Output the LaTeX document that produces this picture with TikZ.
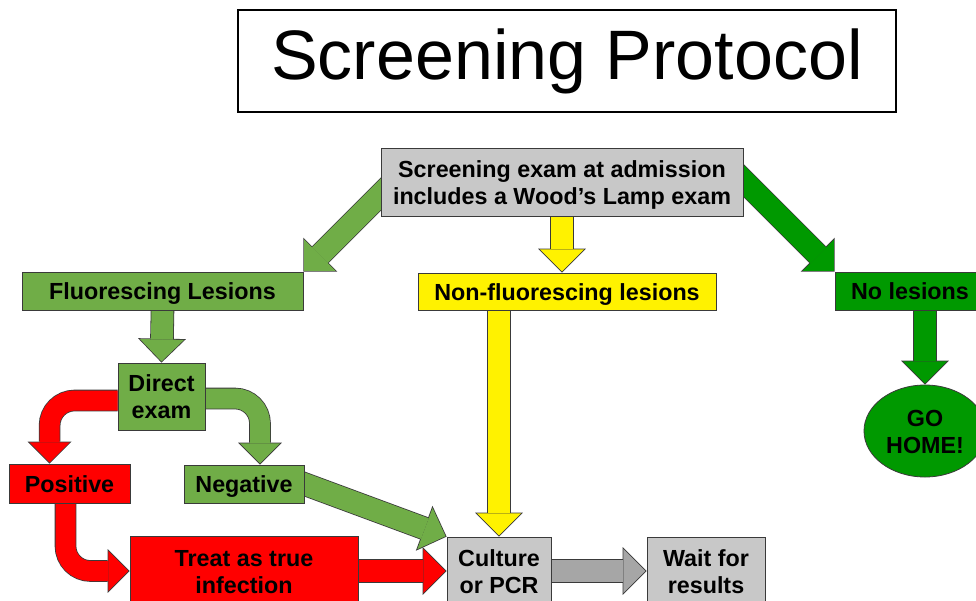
\documentclass[tikz,border=0pt]{standalone}
\usepackage{fontspec}
\setmainfont{Liberation Sans}
\usetikzlibrary{arrows.meta,calc,backgrounds,shapes.geometric}

\definecolor{boxgray}{HTML}{C8C8C8}
\definecolor{arrgray}{HTML}{A6A6A6}
\definecolor{leafgreen}{HTML}{70AD47}
\definecolor{darkgreen}{HTML}{009900}
\definecolor{edge}{HTML}{3A3A3A}

\tikzset{
    stage/.style={
            draw=edge, line width=0.8pt, inner sep=0pt, align=center,
            text height=17pt, text depth=0pt,
            font=\fontsize{23.3}{27}\selectfont\bfseries
        },
    twoline/.style={text height=44pt},
    fat/.style={
            line width=22pt, draw=#1,
            -{Triangle[width=44pt,length=22pt,line width=0pt]},
            shorten >=1.13pt,
            preaction={
                    draw=edge, line width=23.6pt,
                    -{Triangle[width=47.9pt,length=23.95pt,line width=0pt]},
                    shorten >=0pt
                }
        },
    bent/.style={
            line width=20pt, draw=#1, rounded corners=25pt,
            -{Triangle[width=40pt,length=20pt,line width=0pt]},
            shorten >=1.13pt,
            preaction={
                    draw=edge, line width=21.6pt,
                    -{Triangle[width=43.9pt,length=21.95pt,line width=0pt]},
                    shorten >=0pt
                }
        }
}

\begin{document}
\begin{tikzpicture}[x=1pt, y=-1pt]
    \useasboundingbox (0,0) rectangle (976,600);

    \node[draw=black, line width=1.2pt, minimum width=658pt, minimum height=102pt,
        font=\fontsize{70}{80}\selectfont] (title) at (567,61) {Screening Protocol};

    \node[stage, twoline, fill=boxgray, minimum width=362pt, minimum height=68pt] (scr) at (562,182)
    {Screening exam at admission\\includes a Wood’s Lamp exam};
    \node[stage, fill=leafgreen, minimum width=281pt, minimum height=38pt] (fl) at (162.5,291) {Fluorescing Lesions};
    \node[stage, fill=yellow, minimum width=298pt, minimum height=37pt] (nf) at (567,291.5) {Non-fluorescing lesions};
    \node[stage, fill=darkgreen, minimum width=150pt, minimum height=38pt] (nl) at (910,291) {No lesions};
    \node[stage, twoline, ellipse, fill=darkgreen, minimum width=122pt, minimum height=92pt] (gh) at (925,431) {GO\\HOME!};

    \node[stage, twoline, fill=leafgreen, minimum width=87pt, minimum height=67pt] (de) at (161.5,396.5) {Direct\\exam};
    \node[stage, fill=red, minimum width=121pt, minimum height=39pt] (pos) at (69.5,483.5) {Positive};
    \node[stage, fill=leafgreen, minimum width=120pt, minimum height=38pt] (neg) at (244,484) {Negative};

    \node[stage, twoline, fill=red, minimum width=228pt, minimum height=70pt] (tr) at (244,571) {Treat as true\\infection};
    \node[stage, twoline, fill=boxgray, minimum width=104pt, minimum height=68pt] (cu) at (499,571) {Culture\\or PCR};
    \node[stage, twoline, fill=boxgray, minimum width=118pt, minimum height=68pt] (wa) at (706,571) {Wait for\\results};

    % block arrows go behind the boxes
    \begin{pgfonlayer}{background}
        \draw[fat=leafgreen] ($(fl.north east)+(87,-87)$) -- (fl.north east);
        \draw[fat=yellow] (scr.south) -- (scr.south |- nf.north);
        \draw[fat=darkgreen] ($(nl.north west)+(-100,-100)$) -- (nl.north west);
        \draw[fat=leafgreen] (fl.south) -- (de.north);
        \draw[bent=red] ($(de.west)+(0,4)$) -| ($(pos.north west)+(41,0)$);
        \draw[bent=leafgreen] ($(de.east)+(0,2)$) -| ($(neg.north)+(16,0)$);
        \draw[bent=red] ($(pos.south)+(-4,0)$) |- (tr.west);
        \draw[fat=red] (tr.east) -- (cu.west);
        \draw[fat=leafgreen, shorten <=-10pt] (neg.east) -- (cu.north west);
        \draw[fat=yellow] (cu.north |- nf.south) -- (cu.north);
        \draw[fat=arrgray] (cu.east) -- (wa.west);
        \draw[fat=darkgreen] (gh.north |- nl.south) -- (gh.north);
    \end{pgfonlayer}
\end{tikzpicture}
\end{document}
